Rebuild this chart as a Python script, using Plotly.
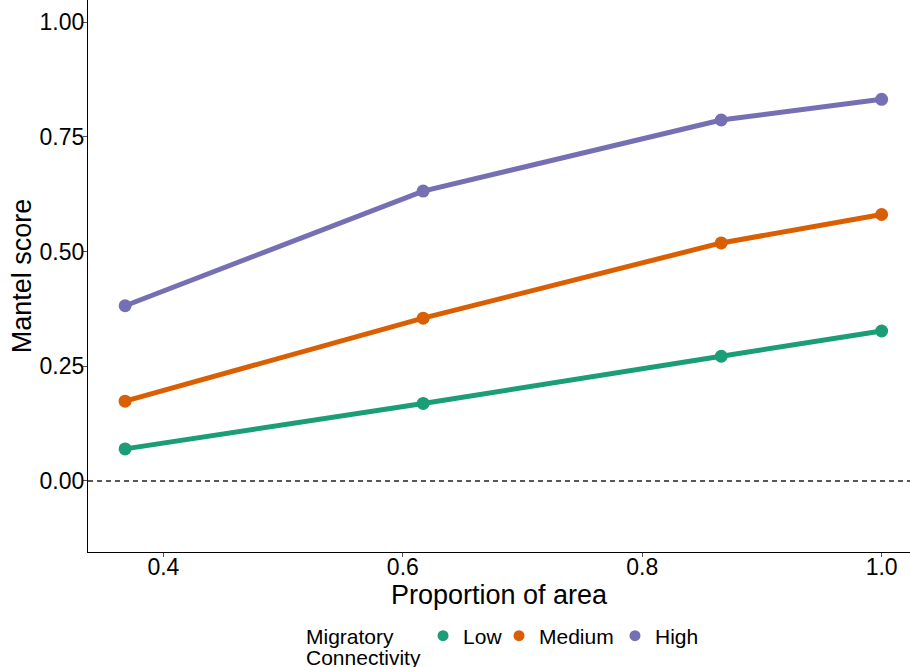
import plotly.graph_objects as go

proportion = [0.368, 0.617, 0.866, 1.0]
low = [0.070, 0.169, 0.272, 0.327]
medium = [0.174, 0.355, 0.519, 0.581]
high = [0.382, 0.632, 0.787, 0.832]
series_names = ["Low", "Medium", "High"]
colors = ["#1B9E77", "#D95F02", "#7570B3"]
y_ticks = [0.0, 0.25, 0.5, 0.75, 1.0]
y_tick_labels = ["0.00", "0.25", "0.50", "0.75", "1.00"]
x_ticks = [0.4, 0.6, 0.8, 1.0]
x_tick_labels = ["0.4", "0.6", "0.8", "1.0"]

FONT = "Liberation Sans, Arial, sans-serif"
legend_ids = ["legend", "legend2", "legend3"]
legend_x = [0.4076, 0.5000, 0.6411]

fig = go.Figure()
for name, vals, col in zip(series_names, [low, medium, high], colors):
    fig.add_trace(go.Scatter(
        x=proportion, y=vals, mode="lines+markers", name=name,
        line=dict(color=col, width=5),
        marker=dict(color=col, size=13),
        showlegend=False,
    ))
for name, col, lid in zip(series_names, colors, legend_ids):
    fig.add_trace(go.Scatter(
        x=[None], y=[None], mode="markers", name=name,
        marker=dict(color=col, size=11),
        showlegend=True, legend=lid,
    ))

fig.add_hline(y=0, line=dict(color="#222222", width=1.3, dash="5px,4px"))

legend_common = dict(orientation="h", xanchor="left", y=-0.1522, yanchor="middle",
                     font=dict(size=21), itemwidth=30, bgcolor="rgba(0,0,0,0)")

fig.update_layout(
    width=910, height=667,
    margin=dict(l=88, r=0, t=0, b=115, autoexpand=False),
    plot_bgcolor="white", paper_bgcolor="white",
    font=dict(family=FONT, size=21, color="black"),
    xaxis=dict(
        range=[0.337, 1.0237], tickvals=x_ticks, ticktext=x_tick_labels,
        showgrid=False, zeroline=False, showline=True, linecolor="black", linewidth=1.3,
        ticks="outside", ticklen=4, tickcolor="#555555", tickwidth=1, automargin=False,
        tickfont=dict(size=23, color="black"), ticklabelstandoff=-10,
        title=dict(text="Proportion of area", font=dict(size=27), standoff=0),
    ),
    yaxis=dict(
        range=[-0.1548, 1.0486], tickvals=y_ticks, ticktext=y_tick_labels,
        showgrid=False, zeroline=False, showline=True, linecolor="black", linewidth=1.3,
        ticks="outside", ticklen=4, tickcolor="#555555", tickwidth=1, automargin=False,
        tickfont=dict(size=23, color="black"), ticklabelstandoff=-6,
        title=dict(text="Mantel score", font=dict(size=27), standoff=0),
    ),
    legend=dict(x=legend_x[0], **legend_common),
    legend2=dict(x=legend_x[1], **legend_common),
    legend3=dict(x=legend_x[2], **legend_common),
)

fig.add_annotation(text="Migratory", xref="paper", yref="paper",
                   x=0.2628, y=-0.1522, xanchor="left", yanchor="middle",
                   showarrow=False, font=dict(size=21))
fig.add_annotation(text="Connectivity", xref="paper", yref="paper",
                   x=0.2628, y=-0.1920, xanchor="left", yanchor="middle",
                   showarrow=False, font=dict(size=21))

fig.write_html("out.html", config={"displayModeBar": False},
               post_script="document.body.style.margin='0';")
